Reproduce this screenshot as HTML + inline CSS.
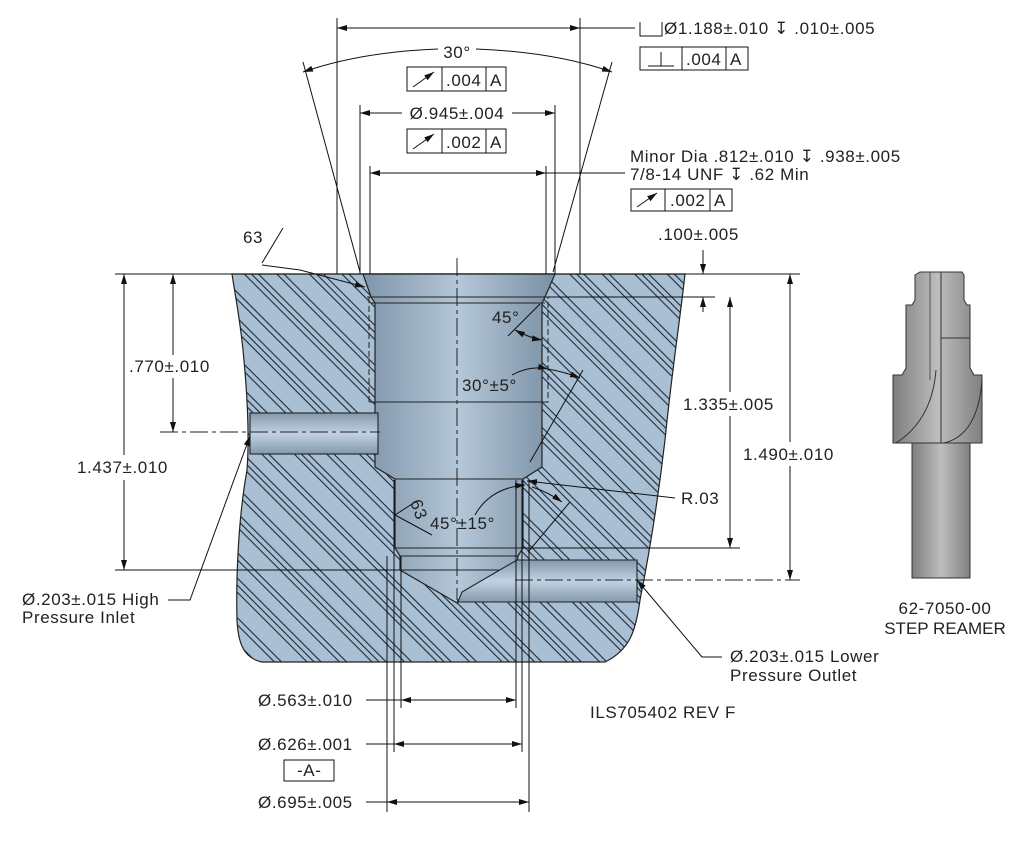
<!DOCTYPE html>
<html><head><meta charset="utf-8"><style>
html,body{margin:0;padding:0;background:#fff;}
svg{display:block;}
text{font-family:"Liberation Sans","DejaVu Sans",sans-serif;font-size:17px;letter-spacing:0.6px;fill:#222;}
</style></head><body>
<svg width="1017" height="844" viewBox="0 0 1017 844" xmlns="http://www.w3.org/2000/svg">
<defs>
<pattern id="hatch" width="46" height="46" patternUnits="userSpaceOnUse" patternTransform="rotate(-45)">
<rect width="46" height="46" fill="#a9c0d4"/>
<g stroke="#1f2a36" stroke-width="1.1">
<line x1="2" y1="0" x2="2" y2="46"/>
<line x1="7" y1="0" x2="7" y2="46"/>
<line x1="25" y1="0" x2="25" y2="46"/>
<line x1="30" y1="0" x2="30" y2="46"/>
<line x1="35" y1="0" x2="35" y2="46"/>
</g>
</pattern>
<linearGradient id="bore" x1="0" x2="1" y1="0" y2="0">
<stop offset="0" stop-color="#7f95a9"/><stop offset="0.5" stop-color="#b4c7d8"/><stop offset="1" stop-color="#7a90a4"/>
</linearGradient>
<linearGradient id="hole" x1="0" x2="0" y1="0" y2="1">
<stop offset="0" stop-color="#8599ad"/><stop offset="0.5" stop-color="#c0d2e2"/><stop offset="1" stop-color="#8599ad"/>
</linearGradient>
<linearGradient id="ream" x1="0" x2="1" y1="0" y2="0">
<stop offset="0" stop-color="#7e7e7e"/><stop offset="0.5" stop-color="#bdbdbd"/><stop offset="1" stop-color="#808080"/>
</linearGradient>
<marker id="a" viewBox="0 0 10 6" refX="10" refY="3" markerWidth="10" markerHeight="6" orient="auto-start-reverse" markerUnits="userSpaceOnUse"><path d="M0,0L10,3L0,6z" fill="#111"/></marker>
</defs>

<path d="M232,274 L685,274 C680,320 672,370 665,440 C658,500 648,560 640,600 C636,630 630,650 605,662 L262,662 C242,658 238,640 237,620 C236,580 238,520 247,470 C250,430 246,380 243,350 C240,320 236,300 232,274 Z" fill="url(#hatch)" stroke="#222" stroke-width="1.2"/>

<path d="M363,274 L555,274 L545,297 L542,303 L542,467 L523,479 L523,548 L518,556 L515,585 L458,600 L457,603 L400,570 L400,556 L395,548 L395,479 L375,467 L375,303 L371,297 Z" fill="url(#bore)" stroke="#222" stroke-width="1.2"/>
<line x1="367" y1="297" x2="549" y2="297" stroke="#222"/>
<line x1="371" y1="303" x2="545" y2="303" stroke="#222"/>
<line x1="395" y1="479" x2="523" y2="479" stroke="#222"/>
<line x1="395" y1="548" x2="523" y2="548" stroke="#222"/>
<line x1="400" y1="556" x2="518" y2="556" stroke="#222"/>
<line x1="400" y1="570" x2="518" y2="570" stroke="#222"/>
<rect x="250" y="413" width="128" height="41" fill="url(#hole)" stroke="#222" stroke-width="1.1"/>
<path d="M517,560 L637,560 L637,602 L458,602 L462,592 Z" fill="url(#hole)" stroke="#222" stroke-width="1.1"/>
<path d="M369,297 L369,402 L548,402 L548,297" fill="none" stroke="#222" stroke-dasharray="6,3"/>
<line x1="369" y1="402" x2="548" y2="402" stroke="#222"/>

<line x1="457" y1="258" x2="457" y2="600" stroke="#222" stroke-dasharray="18,4,4,4"/>
<line x1="160" y1="432" x2="380" y2="432" stroke="#222" stroke-dasharray="18,4,4,4"/>
<line x1="515" y1="580" x2="800" y2="580" stroke="#222" stroke-dasharray="18,4,4,4"/>

<g stroke="#111" stroke-width="1" fill="none">
<line x1="115" y1="274" x2="800" y2="274"/>
<line x1="337" y1="18" x2="337" y2="274"/><line x1="580" y1="18" x2="580" y2="274"/>
<line x1="337" y1="28" x2="580" y2="28" marker-start="url(#a)" marker-end="url(#a)"/>
<line x1="580" y1="28" x2="635" y2="28"/>
<line x1="303" y1="62" x2="360" y2="272"/><line x1="612" y1="62" x2="553" y2="272"/>
<path d="M303,72 Q360,52 438,49" marker-start="url(#a)"/>
<path d="M476,49 Q555,52 612,72" marker-end="url(#a)"/>
<line x1="360" y1="105" x2="360" y2="274"/><line x1="555" y1="105" x2="555" y2="274"/>
<line x1="360" y1="113" x2="402" y2="113" marker-start="url(#a)"/>
<line x1="512" y1="113" x2="555" y2="113" marker-end="url(#a)"/>
<line x1="370" y1="166" x2="370" y2="274"/><line x1="546" y1="166" x2="546" y2="274"/>
<line x1="370" y1="173" x2="546" y2="173" marker-start="url(#a)" marker-end="url(#a)"/>
<line x1="546" y1="173" x2="625" y2="173"/>
<line x1="703" y1="250" x2="703" y2="274" marker-end="url(#a)"/>
<line x1="703" y1="312" x2="703" y2="297" marker-end="url(#a)"/>
<line x1="548" y1="297" x2="715" y2="297"/>
<line x1="262" y1="263" x2="283" y2="228"/>
<path d="M262,265 L300,270 L365,287" marker-end="url(#a)"/>
<line x1="124" y1="274" x2="124" y2="455" marker-start="url(#a)"/>
<line x1="124" y1="480" x2="124" y2="570" marker-end="url(#a)"/>
<line x1="115" y1="570" x2="400" y2="570"/>
<line x1="173" y1="274" x2="173" y2="355" marker-start="url(#a)"/>
<line x1="173" y1="378" x2="173" y2="432" marker-end="url(#a)"/>
<line x1="730" y1="297" x2="730" y2="392" marker-start="url(#a)"/>
<line x1="730" y1="416" x2="730" y2="548" marker-end="url(#a)"/>
<line x1="520" y1="548" x2="740" y2="548"/>
<line x1="790" y1="274" x2="790" y2="442" marker-start="url(#a)"/>
<line x1="790" y1="466" x2="790" y2="580" marker-end="url(#a)"/>
<line x1="508" y1="336" x2="540" y2="304"/>
<path d="M515,330 Q530,338 542,340" marker-start="url(#a)" marker-end="url(#a)"/>
<line x1="530" y1="462" x2="583" y2="370"/>
<path d="M512,375 Q530,365 548,369" marker-end="url(#a)"/>
<path d="M548,369 Q565,372 580,378" marker-end="url(#a)"/>
<line x1="528" y1="552" x2="570" y2="502"/>
<path d="M475,515 Q490,488 525,485" marker-end="url(#a)"/>
<path d="M532,487 Q548,492 562,502" marker-end="url(#a)"/>
<line x1="395" y1="515" x2="412" y2="504"/>
<line x1="395" y1="515" x2="432" y2="535"/>
<line x1="675" y1="498" x2="527" y2="481" marker-end="url(#a)"/>
<line x1="387" y1="556" x2="387" y2="812"/><line x1="394" y1="480" x2="394" y2="752"/><line x1="401" y1="556" x2="401" y2="708"/>
<line x1="516" y1="480" x2="516" y2="708"/><line x1="522" y1="480" x2="522" y2="752"/><line x1="529" y1="480" x2="529" y2="812"/>
<line x1="366" y1="700" x2="401" y2="700"/><line x1="401" y1="700" x2="516" y2="700" marker-start="url(#a)" marker-end="url(#a)"/>
<line x1="366" y1="744" x2="394" y2="744"/><line x1="394" y1="744" x2="522" y2="744" marker-start="url(#a)" marker-end="url(#a)"/>
<line x1="366" y1="802" x2="387" y2="802"/><line x1="387" y1="802" x2="529" y2="802" marker-start="url(#a)" marker-end="url(#a)"/>
<rect x="284" y="760" width="50" height="21"/>
<path d="M168,600 L190,600 L250,436" marker-end="url(#a)"/>
<path d="M722,657 L702,657 L637,580" marker-end="url(#a)"/>
<rect x="640" y="47" width="108" height="23"/><line x1="682" y1="47" x2="682" y2="70"/><line x1="726" y1="47" x2="726" y2="70"/>
<path d="M648,66 L674,66 M661,66 L661,52"/>
<rect x="407" y="67" width="99" height="24"/><line x1="442" y1="67" x2="442" y2="91"/><line x1="486" y1="67" x2="486" y2="91"/>
<line x1="413" y1="87" x2="434" y2="72" marker-end="url(#a)"/>
<rect x="407" y="129" width="99" height="24"/><line x1="442" y1="129" x2="442" y2="153"/><line x1="486" y1="129" x2="486" y2="153"/>
<line x1="413" y1="149" x2="434" y2="134" marker-end="url(#a)"/>
<rect x="631" y="189" width="101" height="22"/><line x1="665" y1="189" x2="665" y2="211"/><line x1="710" y1="189" x2="710" y2="211"/>
<line x1="637" y1="207" x2="657" y2="193" marker-end="url(#a)"/>
<path d="M640,22 L640,36 L662,36 L662,22"/>
</g>

<text x="457" y="58" text-anchor="middle">30°</text>
<text x="446" y="86">.004</text><text x="490" y="86">A</text>
<text x="457" y="119" text-anchor="middle">Ø.945±.004</text>
<text x="446" y="148">.002</text><text x="490" y="148">A</text>
<text x="664" y="34">Ø1.188±.010 ↧ .010±.005</text>
<text x="686" y="65">.004</text><text x="730" y="65">A</text>
<text x="630" y="162">Minor Dia .812±.010 ↧ .938±.005</text>
<text x="630" y="180">7/8-14 UNF ↧ .62 Min</text>
<text x="670" y="206">.002</text><text x="714" y="206">A</text>
<text x="658" y="240">.100±.005</text>
<text x="243" y="243">63</text>
<text x="129" y="372">.770±.010</text>
<text x="77" y="473">1.437±.010</text>
<text x="683" y="410">1.335±.005</text>
<text x="743" y="460">1.490±.010</text>
<text x="492" y="323">45°</text>
<text x="462" y="391">30°±5°</text>
<text x="430" y="529">45°±15°</text>
<text x="410" y="502" transform="rotate(70 410 502)">63</text>
<text x="681" y="504">R.03</text>
<text x="22" y="605">Ø.203±.015 High</text>
<text x="22" y="623">Pressure Inlet</text>
<text x="730" y="662">Ø.203±.015 Lower</text>
<text x="730" y="681">Pressure Outlet</text>
<text x="590" y="718">ILS705402    REV F</text>
<text x="258" y="706">Ø.563±.010</text>
<text x="258" y="750">Ø.626±.001</text>
<text x="297" y="776">-A-</text>
<text x="258" y="808">Ø.695±.005</text>
<text x="945" y="614" text-anchor="middle">62-7050-00</text>
<text x="945" y="634" text-anchor="middle" style="letter-spacing:0">STEP REAMER</text>

<g stroke="#333" stroke-width="1">
<path d="M920,272 L962,272 L964,275 L964,300 L967,305 L970,305 L970,368 L974,375 L982,375 L982,443 L893,443 L893,375 L902,375 L906,368 L906,305 L912,305 L915,300 L915,275 Z" fill="url(#ream)"/>
<rect x="912" y="443" width="58" height="135" fill="url(#ream)"/>
<line x1="941" y1="272" x2="941" y2="443"/>
<line x1="930" y1="272" x2="930" y2="380" stroke="#555"/>
<path d="M896,443 Q932,420 936,370" fill="none"/>
<path d="M944,443 Q978,435 982,380" fill="none"/>
<line x1="941" y1="338" x2="970" y2="338"/>
</g>
</svg>
</body></html>
